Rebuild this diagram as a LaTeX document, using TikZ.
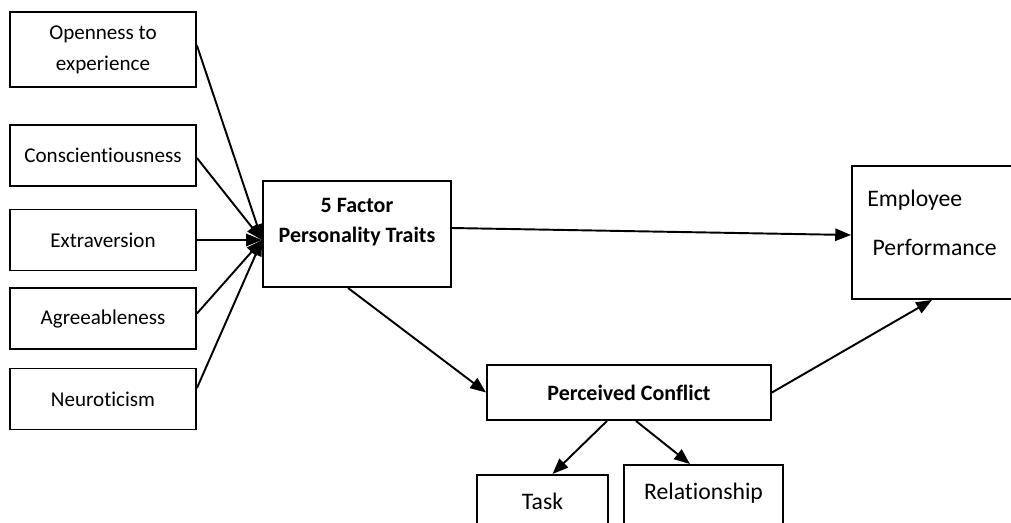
\documentclass[tikz,border=0pt]{standalone}
\usepackage{fontspec}
\setmainfont{Carlito}[Ligatures=NoCommon]
\usetikzlibrary{positioning,arrows.meta}

\begin{document}
\begin{tikzpicture}[%
        x=0.02cm, y=-0.02cm,
        ->,
        >={Triangle[length=9pt,width=7pt]},
        line width=1.1pt,
        trait/.style={%
          rectangle,
          draw,
          minimum width=3.72cm,
          minimum height=1.22cm,
          font=\fontsize{12}{17.5}\selectfont,
          align=center
        },
        bigbox/.style={%
          rectangle,
          draw,
          minimum width=3.76cm,
          minimum height=2.12cm
        },
        boldtxt/.style={font=\fontsize{12.5}{17}\selectfont\bfseries, align=center},
        plaintxt/.style={font=\fontsize{13.5}{16}\selectfont, align=left},
        subbox/.style={%
          rectangle,
          draw,
          anchor=north,
          inner ysep=0pt,
          text height=0.7cm,
          text depth=0.6cm,
          font=\fontsize{13.5}{16}\selectfont
        }
      ]
      \useasboundingbox (0,0) rectangle (1011,522);

      % five traits on the left
      \node[trait, minimum height=1.5cm] (open) at (103,49.5) {Openness to\\experience};
      \node[trait] (consc) at (103,155.5) {Conscientiousness};
      \node[trait] (extra) at (103,240) {Extraversion};
      \node[trait] (agree) at (103,318.5) {Agreeableness};
      \node[trait] (neuro) at (103,399) {Neuroticism};

      \node[bigbox, label={[boldtxt, yshift=0.24cm]center:5 Factor\\Personality Traits}] (traits) at (357,234) {};
      \node[bigbox, minimum width=3.2cm, minimum height=2.66cm,
            label={[plaintxt, yshift=0.19cm]center:Employee\\[0.42cm]\hspace{3pt}Performance}] (emp) at (932,232.5) {};
      \node[rectangle, draw, minimum width=5.68cm, minimum height=1.1cm, boldtxt] (pc) at (629,392.5) {Perceived Conflict};

      \node[subbox, minimum width=2.62cm] (task) at (542.5,474) {Task};
      \node[subbox, minimum width=3.18cm] (rel) at (703.5,464) {Relationship};

      \coordinate (hub) at ([yshift=-0.12cm]traits.west);
      \draw ([yshift=0.08cm]open.east) -- (hub);
      \draw ([yshift=-0.05cm]consc.east) -- (hub);
      \draw (extra.east) -- (hub);
      \draw ([yshift=0.1cm]agree.east) -- (hub);
      \draw ([yshift=0.22cm]neuro.east) -- (hub);

      \draw ([yshift=0.12cm]traits.east) -- ([yshift=-0.05cm]emp.west);
      \draw ([xshift=-0.18cm]traits.south) -- (pc.west);
      \draw (pc.east) -- (emp.south);
      \draw ([xshift=-0.44cm]pc.south) -- ([xshift=0.2cm]task.north);
      \draw ([xshift=0.14cm]pc.south) -- ([xshift=-0.27cm]rel.north);
    \end{tikzpicture}
\end{document}
